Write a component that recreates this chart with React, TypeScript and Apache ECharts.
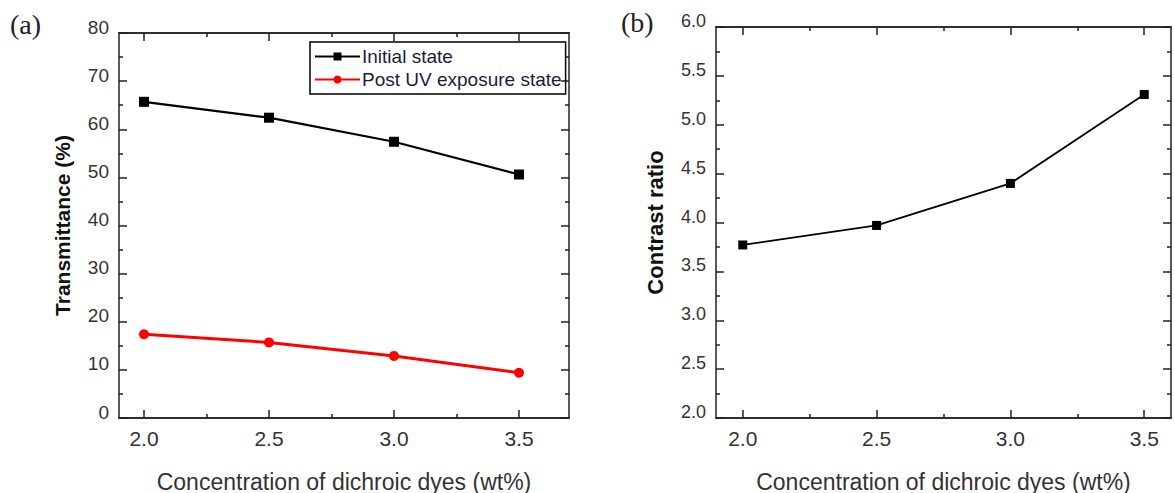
import React, { useEffect, useRef } from "react";
import * as echarts from "echarts";

const concentrations = [2.0, 2.5, 3.0, 3.5];
const initialState = [65.7, 62.4, 57.4, 50.6];
const postUV = [17.4, 15.7, 12.9, 9.4];
const contrastRatio = [3.77, 3.97, 4.4, 5.31];
const xMajorTicks = [2.0, 2.5, 3.0, 3.5];
const xMinorTicks = [2.25, 2.75, 3.25];

const FONT = "Liberation Sans, Arial, sans-serif";
const AX = "#222";

function xAxes(grid: number, min: number, max: number, name: string) {
  const base = {
    type: "value",
    gridIndex: grid,
    min,
    max,
    axisLine: { show: true, lineStyle: { color: AX, width: 1.5 } },
    splitLine: { show: false },
  };
  return [
    {
      ...base,
      position: "bottom",
      name,
      nameLocation: "middle",
      nameGap: 52,
      nameTextStyle: { fontFamily: FONT, fontSize: 23, color: "#333" },
      axisTick: { show: true, inside: true, length: 8, lineStyle: { color: AX, width: 1.5 }, customValues: xMajorTicks },
      axisLabel: { show: true, margin: 10, fontFamily: FONT, fontSize: 21, color: "#333", customValues: xMajorTicks, formatter: (v: number) => v.toFixed(1) },
    },
    {
      ...base,
      position: "bottom",
      axisTick: { show: true, inside: true, length: 4, lineStyle: { color: AX, width: 1.5 }, customValues: xMinorTicks },
      axisLabel: { show: false, customValues: xMinorTicks },
    },
    {
      ...base,
      position: "top",
      axisTick: { show: true, inside: true, length: 8, lineStyle: { color: AX, width: 1.5 }, customValues: xMajorTicks },
      axisLabel: { show: false, customValues: xMajorTicks },
    },
    {
      ...base,
      position: "top",
      axisTick: { show: true, inside: true, length: 4, lineStyle: { color: AX, width: 1.5 }, customValues: xMinorTicks },
      axisLabel: { show: false, customValues: xMinorTicks },
    },
  ];
}

function yAxes(grid: number, min: number, max: number, interval: number, name: string, gap: number, nameSize: number, labelSize: number, decimals: number) {
  const base = {
    type: "value",
    gridIndex: grid,
    min,
    max,
    interval,
    axisLine: { show: true, lineStyle: { color: AX, width: 1.5 } },
    splitLine: { show: false },
    minorTick: { show: true, splitNumber: 2, length: 4, lineStyle: { color: AX, width: 1.5 } },
    minorSplitLine: { show: false },
    axisTick: { show: true, inside: true, length: 8, lineStyle: { color: AX, width: 1.5 } },
  };
  return [
    {
      ...base,
      position: "left",
      name,
      nameLocation: "middle",
      nameGap: gap,
      nameTextStyle: { fontFamily: FONT, fontSize: nameSize, fontWeight: "bold", color: "#111" },
      axisLabel: { show: true, margin: 10, fontFamily: FONT, fontSize: labelSize, color: "#333", verticalAlign: "bottom", lineHeight: 12, formatter: (v: number) => v.toFixed(decimals) },
    },
    {
      ...base,
      position: "right",
      axisLabel: { show: false },
    },
  ];
}

export default function App() {
  const ref = useRef<HTMLDivElement>(null);
  useEffect(() => {
    if (!ref.current) return;
    const chart = echarts.init(ref.current, null, { renderer: "svg" });
    const xTitle = "Concentration of dichroic dyes (wt%)";
    chart.setOption({
      animation: false,
      backgroundColor: "#fff",
      grid: [
        { left: 119, top: 33, width: 450, height: 385, outerBoundsMode: "none", containLabel: false },
        { left: 716, top: 27, width: 455, height: 391, outerBoundsMode: "none", containLabel: false },
      ],
      xAxis: [...xAxes(0, 1.9, 3.7, xTitle), ...xAxes(1, 1.9, 3.6, xTitle)],
      yAxis: [
        ...yAxes(0, 0, 80, 10, "Transmittance (%)", 46, 21, 19, 0),
        ...yAxes(1, 2, 6, 0.5, "Contrast ratio", 50, 22, 18, 1),
      ],
      legend: {
        show: true,
        left: 310,
        top: 42,
        orient: "vertical",
        data: ["Initial state", "Post UV exposure state"],
        borderColor: "#000",
        borderWidth: 1.5,
        padding: [5, 4, 5, 4],
        itemGap: 4,
        itemWidth: 45,
        itemHeight: 10,
        textStyle: { fontFamily: FONT, fontSize: 19, color: "#1c1c3a", padding: [0, 0, 0, -3] },
      },
      graphic: [
        { type: "text", left: 10, top: 10, style: { text: "(a)", font: "28px 'Liberation Serif', serif", fill: "#222" } },
        { type: "text", left: 621, top: 8, style: { text: "(b)", font: "28px 'Liberation Serif', serif", fill: "#222" } },
      ],
      series: [
        {
          name: "Initial state",
          type: "line",
          xAxisIndex: 0,
          yAxisIndex: 0,
          data: concentrations.map((c, i) => [c, initialState[i]]),
          symbol: "rect",
          symbolSize: 10,
          lineStyle: { color: "#000", width: 2.2 },
          itemStyle: { color: "#000" },
        },
        {
          name: "Post UV exposure state",
          type: "line",
          xAxisIndex: 0,
          yAxisIndex: 0,
          data: concentrations.map((c, i) => [c, postUV[i]]),
          symbol: "circle",
          symbolSize: 10,
          lineStyle: { color: "#ff0000", width: 3 },
          itemStyle: { color: "#ff0000" },
        },
        {
          name: "Contrast ratio",
          type: "line",
          xAxisIndex: 4,
          yAxisIndex: 2,
          data: concentrations.map((c, i) => [c, contrastRatio[i]]),
          symbol: "rect",
          symbolSize: 9,
          lineStyle: { color: "#000", width: 1.8 },
          itemStyle: { color: "#000" },
        },
      ],
    });
    return () => chart.dispose();
  }, []);
  return <div ref={ref} style={{ position: "fixed", left: 0, top: 0, width: 1175, height: 493 }} />;
}
